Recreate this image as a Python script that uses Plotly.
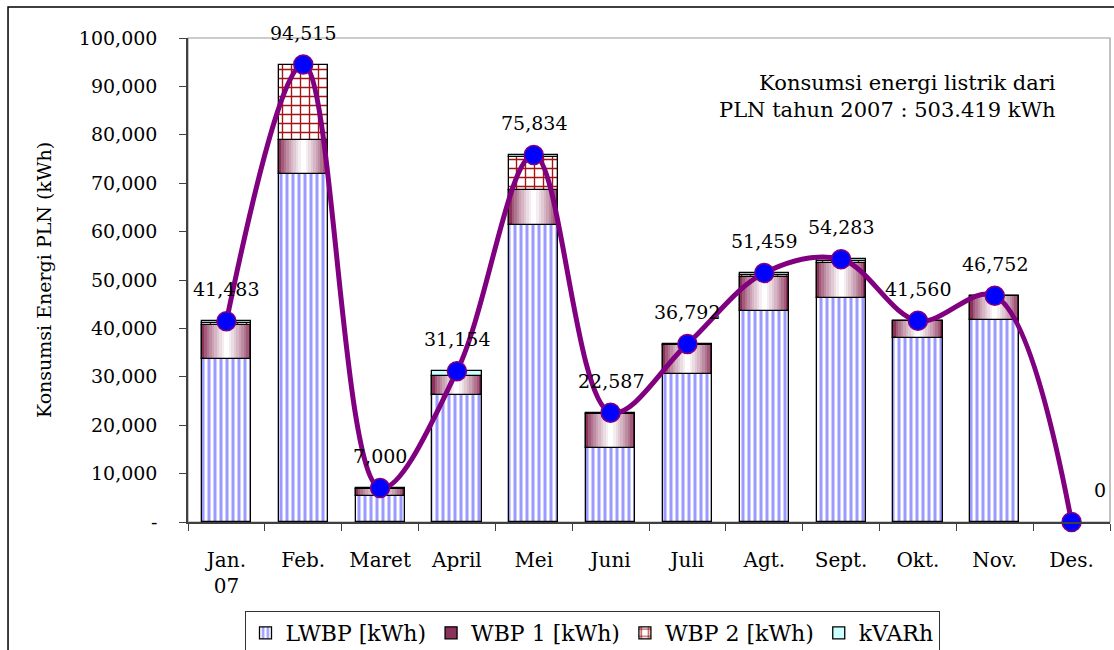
import plotly.graph_objects as go

# ---------------- data ----------------
months = ["Jan.<br>07", "Feb.", "Maret", "April", "Mei", "Juni", "Juli",
          "Agt.", "Sept.", "Okt.", "Nov.", "Des."]
lwbp = [33600, 71900, 5400, 26200, 61400, 15300, 30500, 43600, 46300, 38000, 41700, 0]
wbp1 = [7100, 7000, 1500, 3950, 7200, 7100, 6150, 7100, 7300, 3500, 5000, 0]
wbp2 = [500, 15615, 0, 0, 6800, 0, 0, 300, 300, 0, 0, 0]
kvarh = [283, 0, 100, 1004, 434, 187, 142, 459, 383, 60, 52, 0]
totals = [41483, 94515, 7000, 31154, 75834, 22587, 36792, 51459, 54283, 41560, 46752, 0]

series_names = ["LWBP [kWh)", "WBP 1 [kWh)", "WBP 2 [kWh)", "kVARh"]
y_tick_vals = [0, 10000, 20000, 30000, 40000, 50000, 60000, 70000, 80000, 90000, 100000]
y_tick_text = ["-", "10,000", "20,000", "30,000", "40,000", "50,000",
               "60,000", "70,000", "80,000", "90,000", "100,000"]
y_title = "Konsumsi Energi PLN (kWh)"
note_text = "Konsumsi energi listrik dari<br>PLN tahun 2007 : 503.419 kWh"

# ---------------- styling ----------------
FONT = "DejaVu Serif"
BAR_W = 0.64
OUTLINE = dict(color="black", width=1.3)


def nz(vals):
    # zero-height segments are not drawn
    return [v if v else None for v in vals]


base_wbp1 = list(lwbp)
base_wbp2 = [a + b for a, b in zip(lwbp, wbp1)]
base_kvarh = [a + b + c for a, b, c in zip(lwbp, wbp1, wbp2)]

fig = go.Figure()

# LWBP: vertical light-blue stripes
fig.add_trace(go.Bar(
    x=months, y=nz(lwbp), name=series_names[0], width=BAR_W,
    marker=dict(color="white", line=OUTLINE,
                pattern=dict(shape="|", fgcolor="#9a9aff", bgcolor="white",
                             size=6, solidity=0.5, fillmode="replace")),
))

# WBP 1: horizontal maroon-white-maroon gradient built from nested layers
n_layers = 10
edge = (140, 50, 90)
for k in range(n_layers):
    t = (k / (n_layers - 1)) ** 0.75
    col = "rgb({},{},{})".format(*[int(round(c + (255 - c) * t)) for c in edge])
    fig.add_trace(go.Bar(
        x=months, y=nz(wbp1), base=base_wbp1, width=BAR_W * (1 - k / n_layers),
        name=series_names[1], showlegend=(k == 0), legendgroup="wbp1",
        marker=dict(color=col, line=OUTLINE if k == 0 else dict(width=0)),
    ))
fig.add_trace(go.Bar(
    x=months, y=nz(wbp1), base=base_wbp1, width=BAR_W, showlegend=False,
    legendgroup="wbp1", marker=dict(color="rgba(0,0,0,0)", line=OUTLINE),
))

# WBP 2: brick-like red grid
fig.add_trace(go.Bar(
    x=months, y=nz(wbp2), base=base_wbp2, width=BAR_W, name=series_names[2],
    marker=dict(color="white", line=OUTLINE,
                pattern=dict(shape="+", fgcolor="#a31515", bgcolor="white",
                             size=9, solidity=0.28, fillmode="replace")),
))

# kVARh: light cyan
fig.add_trace(go.Bar(
    x=months, y=nz(kvarh), base=base_kvarh, width=BAR_W, name=series_names[3],
    marker=dict(color="#ccffff", line=OUTLINE),
))

# total line
fig.add_trace(go.Scatter(
    x=months, y=totals, mode="lines+markers", showlegend=False,
    line=dict(color="#800080", width=5, shape="spline", smoothing=1.0),
    marker=dict(size=19, color="#0000ff", line=dict(color="#800080", width=1.5)),
    cliponaxis=False,
))

# value labels
for m, t in zip(months, totals):
    fig.add_annotation(
        x=m, y=t, text=f"{t:,}", showarrow=False, yshift=32,
        xshift=28 if t == 0 else 0,
        font=dict(family=FONT, size=19, color="black"),
    )

# note
fig.add_annotation(
    xref="paper", yref="paper", x=0.9436, y=0.935, xanchor="right", yanchor="top",
    text=note_text, align="right", showarrow=False,
    font=dict(family=FONT, size=21, color="black"),
)

# plot-area frame and outer border
fig.add_shape(type="rect", xref="paper", yref="paper", x0=0, y0=0, x1=1, y1=1,
              line=dict(color="#9a9a9a", width=1.2), layer="below")
fig.add_shape(type="rect", xref="paper", yref="paper", x0=-0.1952, y0=-0.32,
              x1=1.03, y1=1.064, line=dict(color="black", width=1.5))

fig.update_layout(
    width=1114, height=650,
    margin=dict(l=188, r=4, t=38, b=128),
    paper_bgcolor="white", plot_bgcolor="white",
    barmode="overlay", bargap=0,
    font=dict(family=FONT, color="black"),
    legend=dict(
        orientation="h", xref="container", yref="container",
        x=592 / 1114, xanchor="center", y=1 - 611 / 650, yanchor="top",
        bordercolor="#333333", borderwidth=1, bgcolor="white",
        font=dict(family=FONT, size=22), traceorder="normal",
        itemwidth=30, tracegroupgap=0,
    ),
    xaxis=dict(
        type="category", range=[-0.5, len(months) - 0.5],
        showgrid=False, zeroline=False,
        showline=True, linecolor="#404040", linewidth=1.5,
        ticks="outside", ticklen=7, tickcolor="#404040", tickson="boundaries",
        tickfont=dict(family=FONT, size=20), ticklabelstandoff=19,
    ),
    yaxis=dict(
        range=[0, 100000], showgrid=False, zeroline=False,
        showline=True, linecolor="#404040", linewidth=1.5,
        ticks="outside", ticklen=7, tickcolor="#404040",
        tickvals=y_tick_vals, ticktext=y_tick_text,
        tickfont=dict(family=FONT, size=19), ticklabelstandoff=18,
        title=dict(text=y_title, font=dict(family=FONT, size=19), standoff=22),
    ),
)

fig.write_html(
    "out.html",
    config={"displayModeBar": False},
    post_script="document.body.style.margin='0px';document.body.style.overflow='hidden';",
)
